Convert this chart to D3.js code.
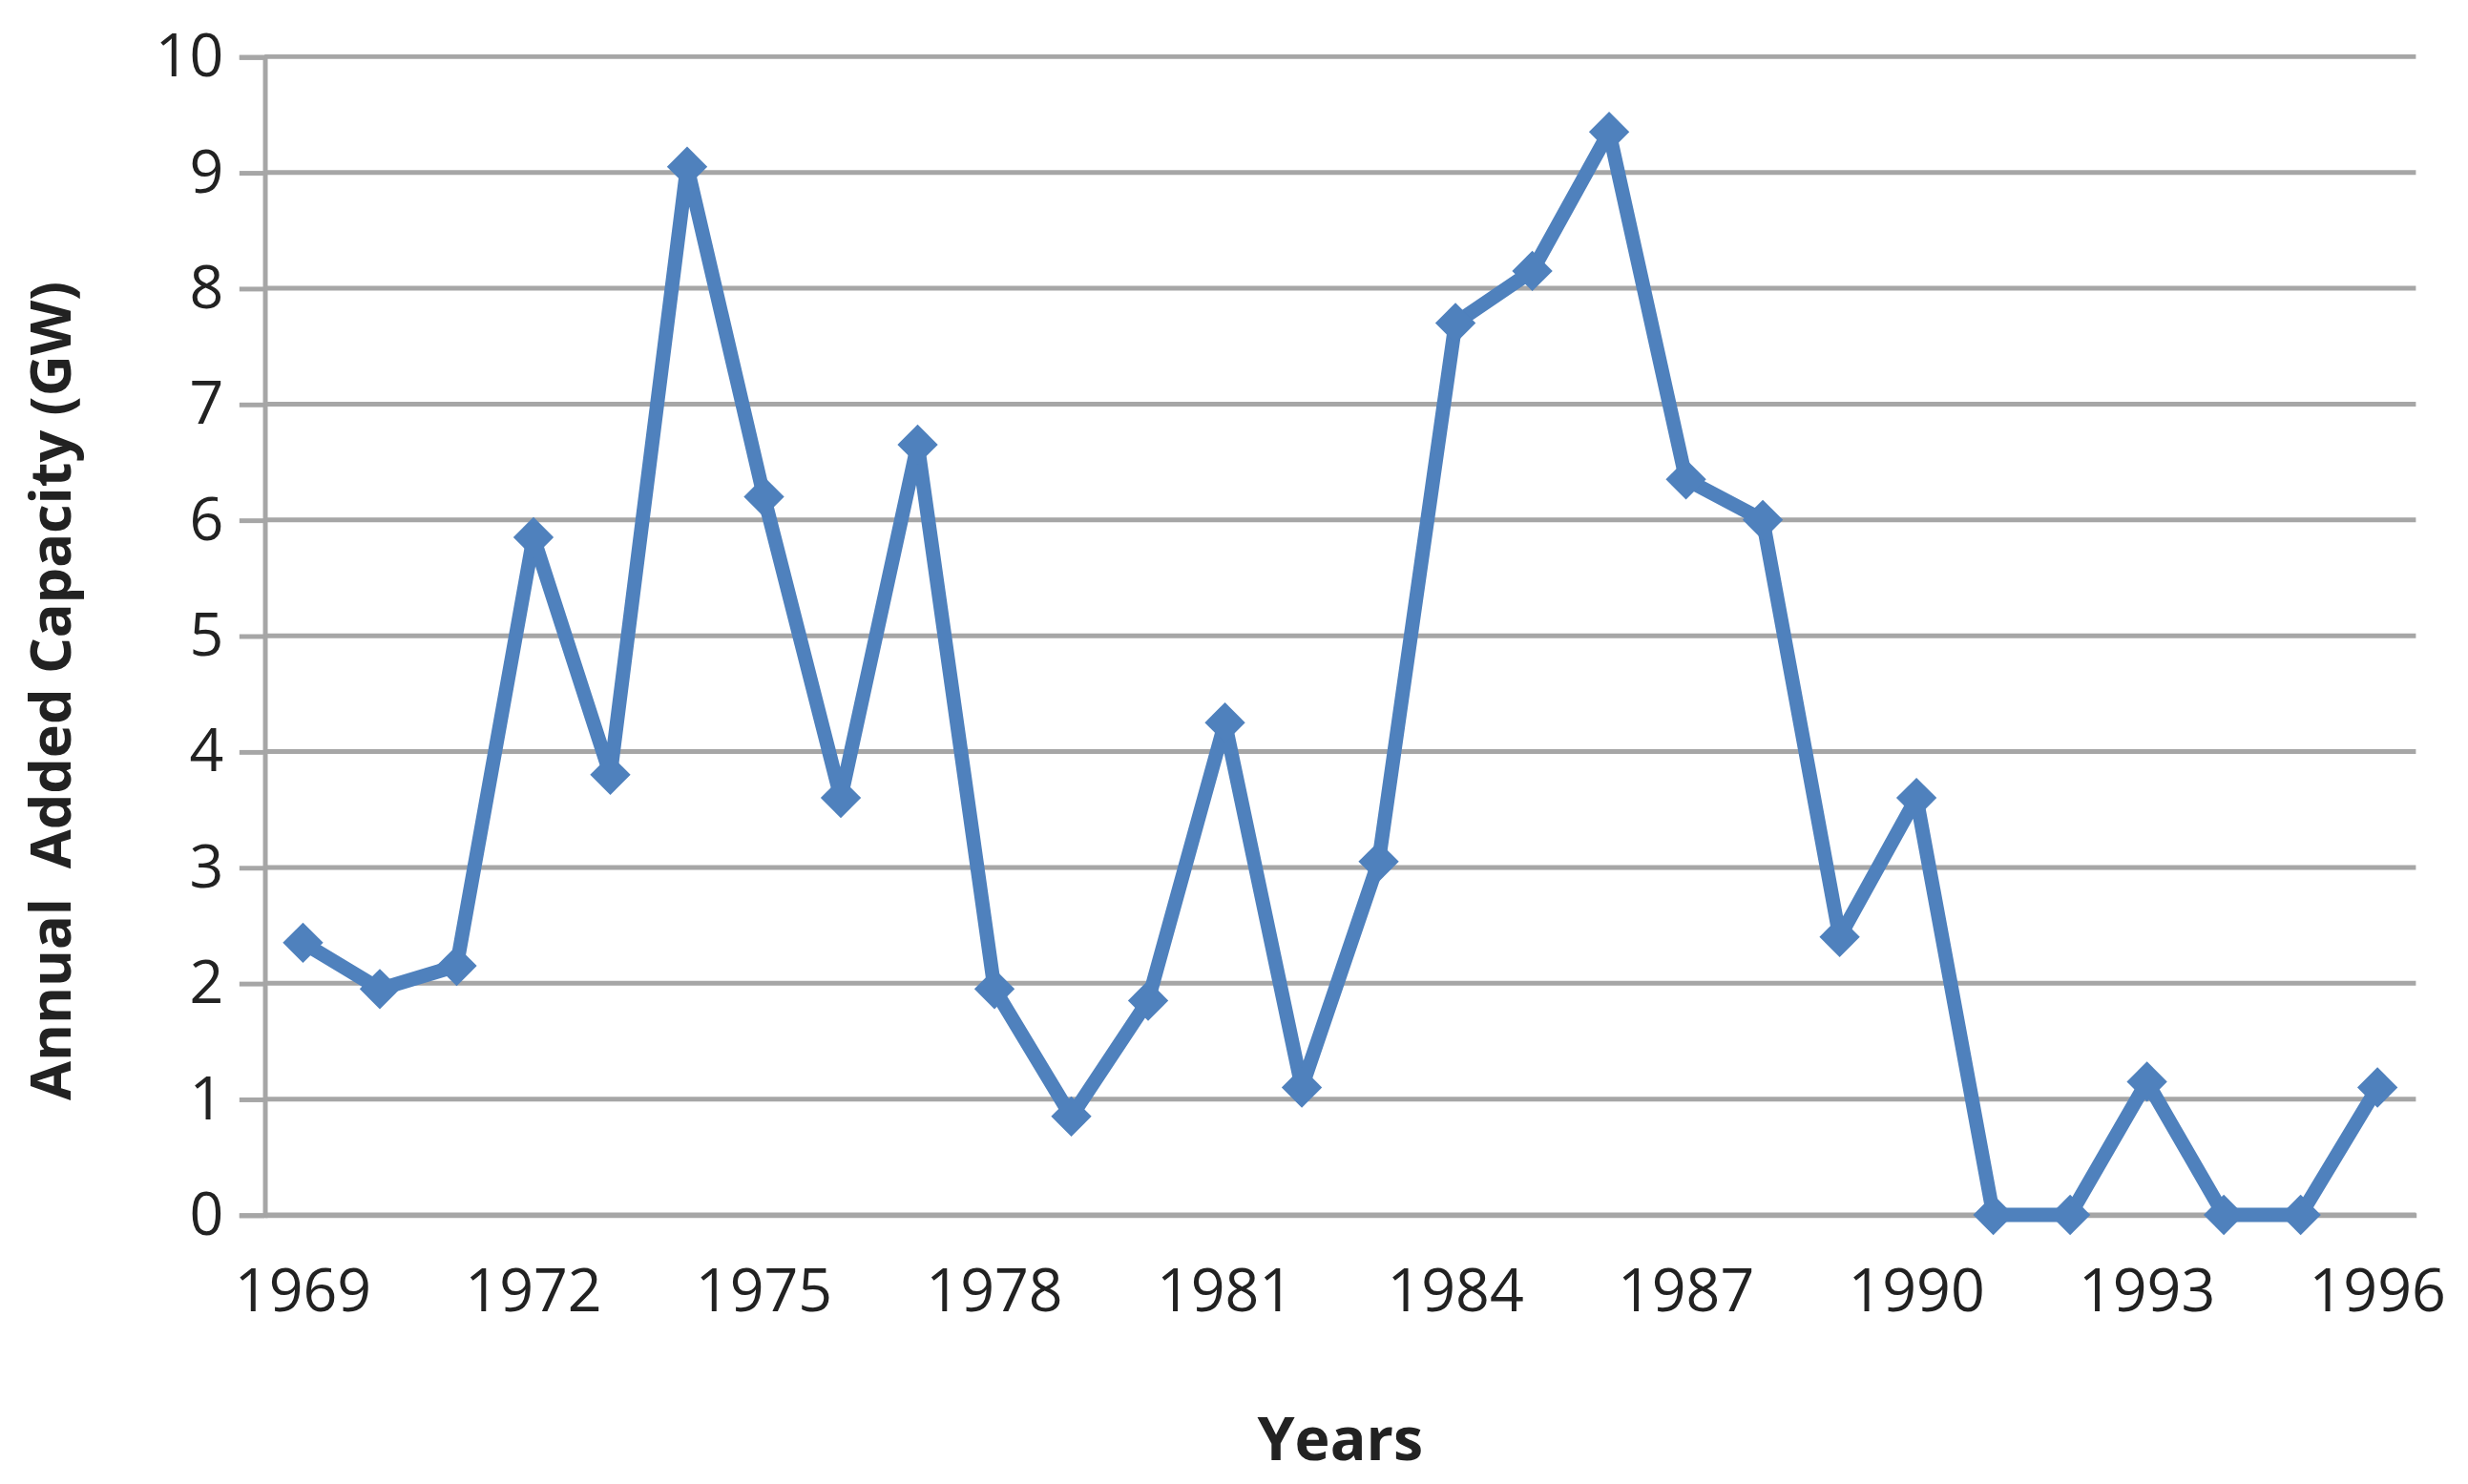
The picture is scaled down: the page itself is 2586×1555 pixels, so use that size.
<!DOCTYPE html>
<html>
<head>
<meta charset="utf-8">
<script src="https://cdn.jsdelivr.net/npm/d3@7"></script>
<style>
  body { margin: 0; background: #fff; }
  text { font-family: "Open Sans", "DejaVu Sans", sans-serif; }
</style>
</head>
<body>
<div class="chart"></div>
<script>
var years = [1969, 1970, 1971, 1972, 1973, 1974, 1975, 1976, 1977, 1978,
  1979, 1980, 1981, 1982, 1983, 1984, 1985, 1986, 1987, 1988,
  1989, 1990, 1991, 1992, 1993, 1994, 1995, 1996];
var capacity = [2.35, 1.95, 2.15, 5.85, 3.8, 9.05, 6.2, 3.6, 6.65, 1.95,
  0.85, 1.85, 4.25, 1.1, 3.05, 7.7, 8.15, 9.35, 6.35, 6.0,
  2.4, 3.6, 0, 0, 1.15, 0, 0, 1.1];
var yTicks = [0, 1, 2, 3, 4, 5, 6, 7, 8, 9, 10];
var xTickYears = [1969, 1972, 1975, 1978, 1981, 1984, 1987, 1990, 1993, 1996];

// drawn in a 1568x943 frame, scaled up to the window
var W = 1568, H = 943;
var margin = { top: 36, right: 33, bottom: 171, left: 168 };
var width = W - margin.left - margin.right;
var height = H - margin.top - margin.bottom;

var root = d3.select(".chart").append("svg")
  .attr("width", 2586).attr("height", 1555)
  .attr("viewBox", `0 0 ${W} ${H}`);
var svg = root.append("g")
  .attr("transform", `translate(${margin.left}, ${margin.top})`);

var xScale = d3.scaleBand().domain(years).range([0, width]);
var yScale = d3.scaleLinear().domain([0, 10]).range([height, 0]);

// gridlines
svg.selectAll(".grid").data(yTicks).enter().append("line")
  .attr("x1", 0).attr("x2", width)
  .attr("y1", d => yScale(d)).attr("y2", d => yScale(d))
  .attr("stroke", "#a6a6a6").attr("stroke-width", 3);

var yAxis = svg.append("g")
  .call(d3.axisLeft(yScale).tickValues(yTicks).tickSize(16).tickPadding(10));
yAxis.select(".domain").attr("stroke", "#a6a6a6").attr("stroke-width", 3);
yAxis.selectAll(".tick line").attr("stroke", "#a6a6a6").attr("stroke-width", 3);
yAxis.selectAll("text").attr("font-size", 38).attr("fill", "#222");

var xAxis = svg.append("g")
  .attr("transform", `translate(0, ${height})`)
  .call(d3.axisBottom(xScale).tickValues(xTickYears).tickSize(0).tickPadding(34));
xAxis.select(".domain").attr("stroke", "#a6a6a6").attr("stroke-width", 3);
xAxis.selectAll("text").attr("font-size", 38).attr("fill", "#222");

var cx = d => xScale(d) + xScale.bandwidth() / 2;
var pts = years.map((y, i) => [cx(y), yScale(capacity[i])]);

svg.append("path")
  .attr("d", d3.line()(pts))
  .attr("fill", "none")
  .attr("stroke", "#4f81bd")
  .attr("stroke-width", 9)
  .attr("stroke-linejoin", "round");

svg.selectAll(".pt").data(pts).enter().append("path")
  .attr("d", d3.symbol(d3.symbolDiamond2, 420)())
  .attr("transform", d => `translate(${d[0]}, ${d[1]})`)
  .attr("fill", "#4f81bd");

root.append("text")
  .attr("x", margin.left + width / 2).attr("y", 928)
  .attr("text-anchor", "middle")
  .attr("font-size", 38).attr("font-weight", "bold").attr("fill", "#222")
  .text("Years");

root.append("text")
  .attr("transform", `translate(45, ${margin.top + height / 2 + 35}) rotate(-90)`)
  .attr("text-anchor", "middle")
  .attr("font-size", 36).attr("font-weight", "bold").attr("fill", "#222")
  .attr("xml:space", "preserve")
  .text("Annual  Added Capacity (GW)");
</script>
</body>
</html>
